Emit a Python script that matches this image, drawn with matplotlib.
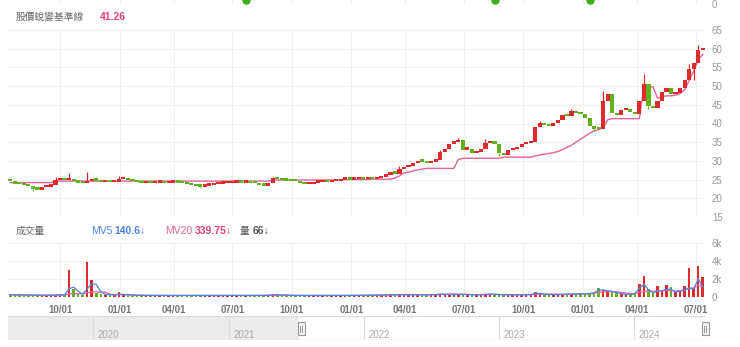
import numpy as np
import pandas as pd
import matplotlib
matplotlib.use('Agg')
from matplotlib import pyplot as plt
import matplotlib.dates as mdates
from matplotlib.patches import Rectangle

W, H = 740, 347

# weekly bars, Jul 2021 - Jul 2024 (lunar new year weeks dropped like the trading axis)
weeks = pd.date_range('2021-07-12', '2024-07-08', freq='7D')
holiday_weeks = pd.to_datetime(['2022-01-31', '2023-01-23', '2024-02-05'])
weeks = weeks[~weeks.isin(holiday_weeks)]

close = [24.6, 23.8, 23.7, 23.6, 23.2, 22.5, 22.3, 22.9, 23.1, 23.5,
         24.9, 25.3, 24.9, 25.2, 24.6, 24.2, 24.0, 24.5, 25.0, 24.7,
         24.4, 24.5, 24.3, 24.4, 25.2, 25.5, 24.8, 24.6, 24.3, 24.0,
         24.1, 24.0, 24.2, 24.3, 24.1, 24.2, 24.3, 24.2, 24.1, 23.8,
         23.5, 23.3, 23.1, 23.4, 23.6, 23.7, 23.9, 24.0, 24.1, 24.2,
         24.3, 24.2, 24.3, 24.1, 24.0, 23.6, 23.4, 24.0, 25.3, 25.1,
         24.8, 24.7, 24.6, 24.5, 24.0, 23.7, 23.8, 24.2, 24.4, 24.4,
         24.3, 24.5, 24.6, 25.0, 25.1, 25.0, 25.2, 25.3, 25.1, 25.2,
         25.1, 25.3, 25.8, 26.3, 26.8, 26.6, 27.8, 28.3, 28.6, 29.4,
         30.0, 29.8, 29.5, 29.8, 30.2, 32.4, 33.3, 34.6, 35.0, 35.6,
         33.0, 33.2, 32.1, 32.5, 33.1, 34.8, 35.4, 34.6, 32.0, 31.6,
         32.8, 33.2, 33.8, 34.4, 34.8, 35.1, 39.0, 40.0, 39.5, 39.2,
         40.0, 41.0, 42.3, 42.0, 43.4, 42.8, 42.5, 41.5, 39.4, 38.6,
         38.4, 46.0, 48.0, 42.8, 42.3, 43.5, 43.6, 43.2, 42.5, 46.0,
         50.5, 44.8, 44.1, 46.0, 48.4, 49.4, 47.8, 48.2, 49.5, 51.5,
         54.5, 56.3, 59.6, 59.6]
first_open = 24.8
highs = {10: 25.8, 13: 26.8, 17: 27.0, 24: 25.9, 58: 25.8, 86: 28.6, 95: 33.0,
         99: 36.0, 105: 35.9, 117: 40.6, 124: 44.0, 131: 48.8, 140: 53.2, 150: 56.0, 152: 61.0}
lows = {5: 22.0, 42: 22.7, 108: 31.3, 129: 38.0, 141: 43.8, 151: 51.6}

baseline = [24.2, 24.2, 24.2, 24.2, 24.2, 24.2, 24.2, 24.2, 24.2, 24.2,
            24.6, 24.6, 24.6, 24.6, 24.6, 24.6, 24.6, 24.6, 24.6, 24.6,
            24.6, 24.6, 24.6, 24.6, 24.6, 24.6, 24.6, 24.6, 24.6, 24.6,
            24.6, 24.6, 24.6, 24.6, 24.6, 24.6, 24.6, 24.6, 24.6, 24.6,
            24.6, 24.6, 24.6, 24.6, 24.6, 24.6, 24.6, 24.6, 24.6, 24.6,
            24.6, 24.6, 24.6, 24.6, 24.6, 24.6, 24.6, 24.6, 24.9, 24.9,
            24.9, 24.9, 24.9, 24.9, 24.9, 24.9, 24.9, 24.9, 24.9, 24.9,
            24.9, 24.9, 24.9, 24.9, 25.0, 25.0, 25.0, 25.0, 25.0, 25.0,
            25.1, 25.1, 25.1, 25.1, 25.1, 25.4, 26.0, 26.8, 27.0, 27.3,
            27.6, 27.8, 28.0, 28.0, 28.0, 28.0, 28.0, 28.0, 28.0, 30.4,
            30.7, 30.7, 30.7, 30.7, 30.7, 30.7, 30.7, 30.7, 30.7, 31.0,
            31.0, 31.0, 31.0, 31.0, 31.0, 31.0, 31.3, 31.6, 31.8, 32.0,
            32.2, 32.5, 33.0, 33.6, 34.2, 35.0, 35.8, 36.6, 37.4, 38.0,
            38.4, 38.8, 41.0, 41.3, 41.3, 41.3, 41.3, 41.3, 41.3, 41.3,
            49.8, 49.8, 49.8, 46.8, 47.2, 47.4, 47.4, 47.6, 48.0, 49.0,
            51.5, 54.0, 57.0, 58.5]

volume = [320, 250, 260, 230, 210, 200, 180, 190, 210, 200,
          220, 250, 230, 3000, 850, 300, 260, 3900, 1900, 450,
          280, 250, 220, 230, 600, 320, 230, 200, 180, 190,
          170, 180, 160, 170, 180, 160, 170, 180, 170, 160,
          180, 170, 160, 150, 160, 170, 160, 150, 170, 160,
          150, 160, 150, 170, 160, 170, 180, 200, 320, 250,
          200, 180, 170, 160, 180, 170, 160, 170, 160, 150,
          160, 170, 160, 170, 180, 170, 190, 200, 180, 190,
          200, 210, 230, 260, 250, 240, 300, 280, 260, 250,
          240, 230, 250, 260, 270, 380, 300, 320, 290, 330,
          280, 260, 240, 250, 270, 320, 350, 290, 250, 240,
          230, 250, 240, 250, 260, 280, 520, 380, 300, 280,
          270, 300, 310, 300, 320, 350, 330, 380, 420, 500,
          1050, 800, 700, 650, 500, 380, 300, 280, 320, 1500,
          2300, 900, 500, 1200, 650, 1300, 1100, 550, 700, 1200,
          3200, 1000, 3500, 2200]

mv5 = [250, 240, 240, 230, 220, 210, 200, 200, 200, 200,
       220, 230, 240, 900, 1100, 650, 300, 900, 1500, 1400,
       600, 300, 250, 240, 320, 300, 260, 220, 200, 190,
       180, 180, 170, 170, 170, 170, 170, 170, 170, 170,
       170, 170, 165, 160, 160, 160, 160, 160, 160, 160,
       160, 160, 160, 160, 160, 170, 175, 200, 260, 240,
       210, 190, 175, 170, 170, 170, 165, 165, 160, 160,
       160, 165, 165, 170, 175, 175, 185, 190, 190, 190,
       200, 210, 225, 245, 250, 250, 270, 275, 265, 255,
       245, 240, 245, 255, 265, 330, 310, 310, 300, 310,
       290, 270, 255, 250, 260, 300, 330, 300, 265, 245,
       240, 245, 245, 250, 255, 270, 420, 390, 320, 290,
       280, 290, 300, 300, 310, 330, 330, 360, 400, 470,
       780, 780, 700, 620, 480, 370, 300, 290, 350, 1000,
       1400, 800, 450, 650, 700, 850, 850, 550, 650, 800,
       1000, 900, 2000, 1100]

mv20 = [230, 230, 225, 220, 215, 210, 210, 205, 205, 205,
        210, 215, 220, 350, 380, 370, 360, 480, 550, 560,
        550, 530, 320, 250, 260, 260, 240, 220, 200, 195,
        190, 185, 180, 175, 175, 170, 170, 170, 170, 170,
        170, 170, 165, 165, 160, 160, 160, 160, 160, 160,
        160, 160, 160, 160, 160, 165, 170, 180, 200, 210,
        210, 200, 190, 180, 175, 170, 170, 170, 165, 165,
        165, 165, 165, 165, 170, 170, 175, 180, 185, 190,
        195, 200, 210, 220, 230, 240, 250, 260, 265, 265,
        260, 255, 250, 250, 255, 280, 290, 300, 300, 305,
        300, 290, 280, 270, 265, 275, 290, 295, 285, 270,
        260, 255, 250, 250, 250, 255, 300, 320, 330, 320,
        300, 295, 295, 300, 305, 315, 325, 335, 360, 410,
        520, 580, 610, 600, 560, 500, 450, 400, 380, 500,
        620, 660, 650, 680, 700, 720, 700, 660, 700, 800,
        950, 1000, 1300, 1200]

quarter_starts = pd.to_datetime(['2021-10-01', '2022-01-01', '2022-04-01', '2022-07-01',
                                 '2022-10-01', '2023-01-01', '2023-04-01', '2023-07-01',
                                 '2023-10-01', '2024-01-01', '2024-04-01', '2024-07-01'])
quarter_labels = ['10/01', '01/01', '04/01', '07/01', '10/01', '01/01',
                  '04/01', '07/01', '10/01', '01/01', '04/01', '07/01']
price_ticks = [15, 20, 25, 30, 35, 40, 45, 50, 55, 60, 65]
vol_ticks = [0, 2000, 4000, 6000]
vol_labels = ['0', '2k', '4k', '6k']
nav_range = pd.to_datetime(['2019-05-15', '2024-07-12'])
nav_years = [2020, 2021, 2022, 2023, 2024]
top_dots = [52, 107, 128]

RED = '#dd2b2b'
GREEN = '#62b21c'
PINK = '#e2649b'
BLUE = '#4f82e6'
GRID = '#f0f0f0'
CJK = ['Noto Sans CJK TC', 'DejaVu Sans']
plt.rcParams['font.family'] = ['Liberation Sans', 'DejaVu Sans']


def box(x0, y0, x1, y1):
    return [x0 / W, 1 - y1 / H, (x1 - x0) / W, (y1 - y0) / H]


n = len(close)
x = np.arange(n)
c = np.array(close)
o = np.array([first_open] + close[:-1])
up = c >= o
cols = [RED if u else GREEN for u in up]

# quarter tick positions on the weekly index
idx = np.searchsorted(weeks.values, quarter_starts.values, side='right') - 1
tick_pos = idx - 0.5 + (quarter_starts - weeks[idx]).days / 7.0

fig = plt.figure(figsize=(W / 100, H / 100), dpi=100)


def style(ax):
    for s in ax.spines.values():
        s.set_visible(False)
    ax.set_xlim(-0.5, n - 0.5)
    ax.set_xticks(tick_pos)
    ax.grid(True, color=GRID, lw=0.8)
    ax.set_axisbelow(True)
    ax.yaxis.tick_right()
    ax.tick_params(length=0, labelsize=7, labelcolor='#999', pad=5)
    ax.tick_params(axis='x', labelbottom=False)


# strip of the panel above, cut by the frame
ax_top = fig.add_axes(box(8, -6, 705, 4))
style(ax_top)
ax_top.set_ylim(0, 1)
ax_top.set_yticks([0])
ax_top.scatter(top_dots, [0.4] * len(top_dots), s=26, color='#3fae1a', clip_on=False, zorder=3)

# price panel
ax = fig.add_axes(box(8, 30, 705, 217))
style(ax)
ax.set_ylim(15, 65)
ax.set_yticks(price_ticks)
ax.plot(x, baseline, color=PINK, lw=1.0, zorder=2)
for i, h in highs.items():
    ax.vlines(i, max(o[i], c[i]), h, color=cols[i], lw=0.9, zorder=3)
for i, l in lows.items():
    ax.vlines(i, l, min(o[i], c[i]), color=cols[i], lw=0.9, zorder=3)
ax.bar(x, np.maximum(np.abs(c - o), 0.6), bottom=np.minimum(o, c), width=0.92,
       color=cols, linewidth=0, zorder=3)

fig.text(16 / W, 1 - 17 / H, '股價蛻變基準線', family=CJK, fontsize=7, color='#666', va='center')
fig.text(100 / W, 1 - 17 / H, '41.26', fontsize=7.5, color='#e0407f', weight='bold', va='center')

# volume panel
axv = fig.add_axes(box(8, 243, 705, 297))
style(axv)
axv.set_ylim(0, 6000)
axv.set_yticks(vol_ticks)
axv.set_yticklabels(vol_labels)
axv.bar(x, volume, width=0.55, color=cols, linewidth=0, zorder=2)
axv.plot(x, mv20, color=PINK, lw=0.9, zorder=3)
axv.plot(x, mv5, color=BLUE, lw=0.9, zorder=4)
axv.tick_params(axis='x', labelbottom=True, labelsize=7, labelcolor='#777', pad=6)
axv.set_xticklabels(quarter_labels, weight='bold')

vy = 1 - 231 / H
fig.text(16 / W, vy, '成交量', family=CJK, fontsize=7, color='#666', va='center')
fig.text(91 / W, vy, 'MV5', fontsize=7.5, color=BLUE, va='center')
fig.text(114 / W, vy, '140.6↓', fontsize=7.5, color=BLUE, weight='bold', va='center')
fig.text(165 / W, vy, 'MV20', fontsize=7.5, color=PINK, va='center')
fig.text(195 / W, vy, '339.75↓', fontsize=7.5, color='#e0407f', weight='bold', va='center')
fig.text(240 / W, vy, '量', family=CJK, fontsize=7, color='#555', va='center')
fig.text(253 / W, vy, '66↓', fontsize=7.5, color='#555', weight='bold', va='center')

# navigator
axn = fig.add_axes(box(8, 316, 705, 340))
nav_lo, nav_hi = mdates.date2num(nav_range)
axn.set_xlim(nav_lo, nav_hi)
axn.set_ylim(0, 1)
axn.set_xticks([])
axn.set_yticks([])
for s in axn.spines.values():
    s.set_visible(False)
sel_start = mdates.date2num(weeks[0] - pd.Timedelta(days=3))
axn.axvspan(nav_lo, sel_start, color='#ececec', lw=0)
axn.axhline(1, color='#dddddd', lw=1)
axn.axhline(0, color='#dddddd', lw=1)
for yr in nav_years:
    d = mdates.date2num(pd.Timestamp(f'{yr}-01-01'))
    axn.axvline(d, color='#dcdcdc', lw=0.8)
    axn.text(d + 12, 0.2, str(yr), fontsize=7, color='#aaa', va='center')

for hx in (301, 705):
    fig.add_artist(Rectangle(((hx - 3.5) / W, 1 - 335 / H), 7 / W, 13 / H,
                             transform=fig.transFigure, facecolor='#f4f4f4',
                             edgecolor='#999', lw=0.8))
    for gx in (hx - 1, hx + 1):
        fig.add_artist(plt.Line2D([gx / W, gx / W], [1 - 331.5 / H, 1 - 325.5 / H],
                                  transform=fig.transFigure, color='#888', lw=0.6))

fig.savefig('out.png', dpi=100)
